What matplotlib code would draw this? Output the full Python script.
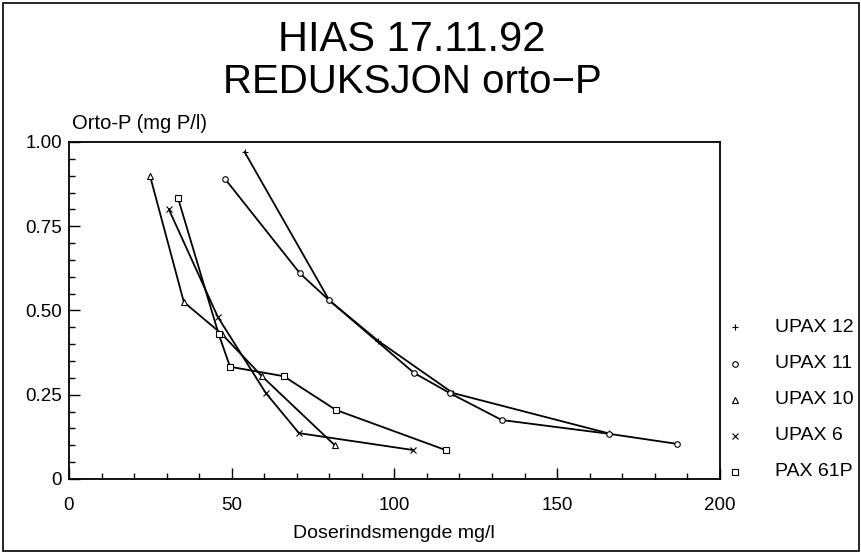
import matplotlib.pyplot as plt
from matplotlib.ticker import MultipleLocator, FuncFormatter
from matplotlib.patches import Rectangle

plt.rcParams['font.family'] = ['Liberation Sans', 'DejaVu Sans']

# data
upax12_x = [54, 80, 95, 118, 166]
upax12_y = [0.97, 0.53, 0.41, 0.255, 0.135]
upax11_x = [48, 71, 80, 106, 117, 133, 166, 187]
upax11_y = [0.89, 0.61, 0.53, 0.315, 0.255, 0.175, 0.134, 0.104]
upax10_x = [24.9, 35.3, 47, 59.3, 81.7]
upax10_y = [0.90, 0.525, 0.43, 0.305, 0.10]
upax6_x = [30.7, 45.8, 60.5, 70.7, 105.7]
upax6_y = [0.80, 0.48, 0.255, 0.136, 0.086]
pax61_x = [33.5, 46, 49.5, 66, 82, 116]
pax61_y = [0.834, 0.43, 0.333, 0.305, 0.205, 0.085]

labels = ['UPAX 12', 'UPAX 11', 'UPAX 10', 'UPAX 6', 'PAX 61P']
markers = ['+', 'o', '^', 'x', 's']
series = [(upax12_x, upax12_y), (upax11_x, upax11_y), (upax10_x, upax10_y),
          (upax6_x, upax6_y), (pax61_x, pax61_y)]

fig = plt.figure(figsize=(8.62, 5.54), dpi=100)
ax = fig.add_axes([0.080, 0.1354, 0.755, 0.6083])

for (xs, ys), m in zip(series, markers):
    ax.plot(xs, ys, color='black', lw=1.3, marker=m, markersize=4,
            markerfacecolor='white', markeredgecolor='black', markeredgewidth=0.8)

ax.set_xlim(0, 200)
ax.set_ylim(0, 1.0)
ax.xaxis.set_major_locator(MultipleLocator(50))
ax.xaxis.set_minor_locator(MultipleLocator(10))
ax.yaxis.set_major_locator(MultipleLocator(0.25))
ax.yaxis.set_minor_locator(MultipleLocator(0.05))
ax.yaxis.set_major_formatter(FuncFormatter(lambda v, p: '0' if v == 0 else f'{v:.2f}'))
ax.tick_params(which='both', direction='in', top=False, right=False, labelsize=13.5, width=1)
ax.tick_params(which='major', length=8)
ax.tick_params(which='minor', length=4)
ax.tick_params(axis='x', which='major', pad=13)
ax.tick_params(axis='y', which='major', pad=5)
for s in ax.spines.values():
    s.set_linewidth(1.3)

ax.set_xlabel('Doserindsmengde mg/l', fontsize=14, labelpad=8)
fig.text(0.084, 0.760, 'Orto-P (mg P/l)', fontsize=14.5, ha='left', va='bottom')

fig.text(0.478, 0.928, 'HIAS 17.11.92', fontsize=30, ha='center', va='center')
fig.text(0.478, 0.852, 'REDUKSJON orto\u2212P', fontsize=29, ha='center', va='center')

# legend on the right
leg_y = [327, 364, 400, 436, 472]
for ly, m, lab in zip(leg_y, markers, labels):
    yf = 1 - ly / 554
    fig.lines.append(plt.Line2D([735 / 862], [yf], transform=fig.transFigure,
                                marker=m, markersize=4, color='black', lw=0,
                                markerfacecolor='white', markeredgewidth=0.8))
    fig.text(775 / 862, yf, lab, fontsize=14, ha='left', va='center')

fig.patches.append(Rectangle((0.004, 0.006), 0.992, 0.988, transform=fig.transFigure,
                             fill=False, edgecolor='black', lw=1.2))

fig.savefig('out.png', dpi=100)
